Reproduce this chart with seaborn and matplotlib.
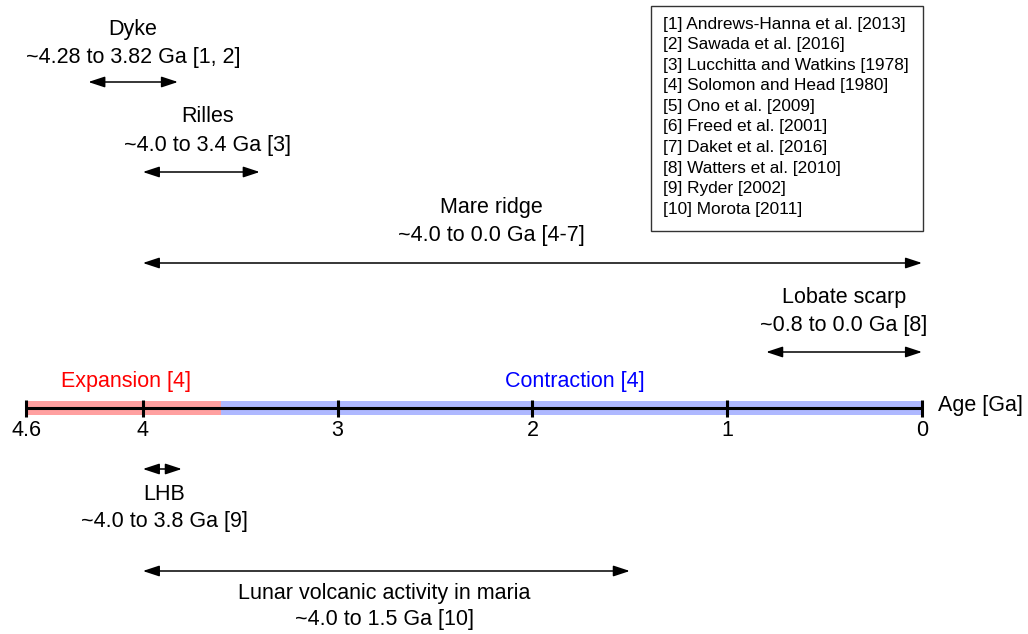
import matplotlib
matplotlib.use("Agg")
import matplotlib.pyplot as plt
from matplotlib.patches import Rectangle
import seaborn as sns
import pandas as pd

sns.set_theme(style="white")
plt.rcParams["font.family"] = ["Liberation Sans", "DejaVu Sans"]
plt.rcParams["text.color"] = "black"

# ---- data (ages in Ga) ----
event_names = ["Dyke", "Rilles", "Mare ridge", "Lobate scarp", "LHB",
               "Lunar volcanic activity in maria"]
event_start = [4.28, 4.0, 4.0, 0.8, 4.0, 4.0]
event_end = [3.82, 3.4, 0.0, 0.0, 3.8, 1.5]
event_refs = ["1, 2", "3", "4-7", "8", "9", "10"]

phase_names = ["Expansion [4]", "Contraction [4]"]
phase_start = [4.6, 3.6]
phase_end = [3.6, 0.0]
phase_colors = ["#FFA0A0", "#AEB8FF"]
phase_text_colors = ["#FF0000", "#0000FF"]

tick_values = [4.6, 4, 3, 2, 1, 0]
tick_labels = ["4.6", "4", "3", "2", "1", "0"]

references = [
    "[1] Andrews-Hanna et al. [2013]",
    "[2] Sawada et al. [2016]",
    "[3] Lucchitta and Watkins [1978]",
    "[4] Solomon and Head [1980]",
    "[5] Ono et al. [2009]",
    "[6] Freed et al. [2001]",
    "[7] Daket et al. [2016]",
    "[8] Watters et al. [2010]",
    "[9] Ryder [2002]",
    "[10] Morota [2011]",
]

# ---- layout (vertical positions in figure pixels, top = 0) ----
arrow_y = [82, 172, 263, 352, 469, 571]
name_y = [30, 117, 207, 298, 495, 593]
range_y = [58, 145, 235, 325, 522, 620]
label_x = [4.05, 3.67, 2.21, 0.40, 3.89, 2.76]
axis_y = 408
phase_label_x = [4.087, 1.78]
phase_label_y = 382

W, H = 1028, 634
FS = 15.5

fig = plt.figure(figsize=(W / 100, H / 100), dpi=100)
ax = fig.add_axes([0, 0, 1, 1])
# x axis runs in Ga (reversed: old on the left), y in pixels from the top
ppg = 194.78
ax.set_xlim(4.6 + 26 / ppg, -(W - 922) / ppg)
ax.set_ylim(H, 0)
ax.axis("off")

# expansion / contraction bands
for s, e, c in zip(phase_start, phase_end, phase_colors):
    ax.fill_between([s, e], axis_y - 7, axis_y + 7, color=c, lw=0, zorder=1)
for name, tc, lx in zip(phase_names, phase_text_colors, phase_label_x):
    ax.text(lx, phase_label_y, name, color=tc, fontsize=FS,
            ha="center", va="center")

# time axis line
axis_df = pd.DataFrame({"age": [tick_values[0], tick_values[-1]],
                        "y": [axis_y, axis_y]})
sns.lineplot(data=axis_df, x="age", y="y", color="black", lw=2.2,
             sort=False, ax=ax, zorder=3)
ax.vlines(tick_values, axis_y - 8.5, axis_y + 8.5, color="black", lw=2.2,
          zorder=3)
for v, lab in zip(tick_values, tick_labels):
    ax.text(v, axis_y + 23, lab, fontsize=FS, ha="center", va="center")
ax.text(-16 / ppg, axis_y - 3, "Age [Ga]", fontsize=FS, ha="left", va="center")

# event ranges
for name, s, e, ref, ay, ny, ry, lx in zip(event_names, event_start,
                                           event_end, event_refs, arrow_y,
                                           name_y, range_y, label_x):
    ax.annotate("", xy=(e, ay), xytext=(s, ay),
                arrowprops=dict(arrowstyle="<|-|>,head_length=1.0,head_width=0.33",
                                color="black", lw=1.1, shrinkA=0, shrinkB=0,
                                mutation_scale=10))
    ax.text(lx, ny, name, fontsize=FS, ha="center", va="center")
    ax.text(lx, ry, f"~{s} to {e} Ga [{ref}]", fontsize=FS,
            ha="center", va="center")

# reference box, in pixel coordinates
pax = fig.add_axes([0, 0, 1, 1], facecolor="none")
pax.set_xlim(0, W)
pax.set_ylim(H, 0)
pax.axis("off")
pax.add_patch(Rectangle((651, 6), 272, 225, fill=False, edgecolor="#333333",
                        lw=1.0))
for i, r in enumerate(references):
    pax.text(663, 24 + i * 20.6, r, fontsize=12.4, ha="left", va="center")

fig.savefig("out.png", dpi=100)
